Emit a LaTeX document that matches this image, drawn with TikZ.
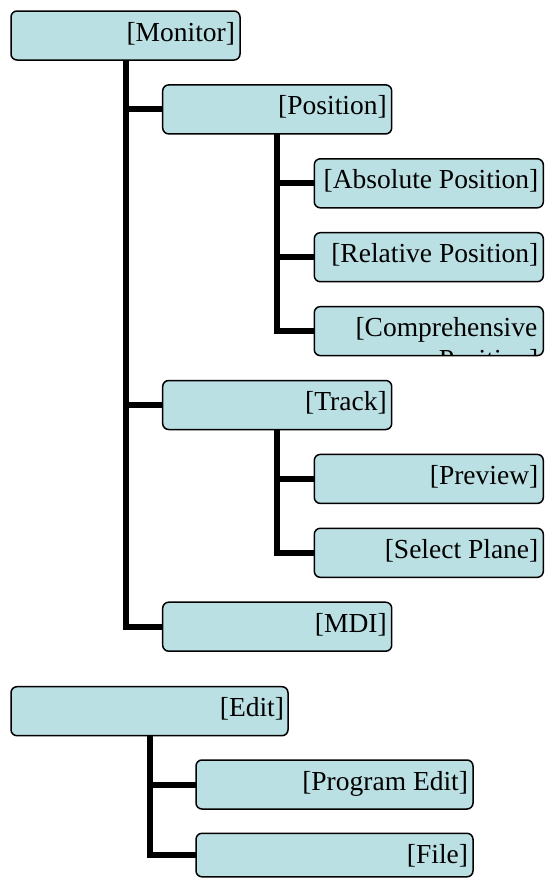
\documentclass[tikz,border=0pt]{standalone}
\usepackage{fontspec}
\setmainfont{Liberation Serif}
\usetikzlibrary{backgrounds}
\definecolor{boxfill}{RGB}{187,224,227}
\tikzset{
  box/.style={draw=black, line width=1.5pt, fill=boxfill, rounded corners=6pt,
    minimum height=49pt, inner sep=0pt, outer sep=0pt, anchor=north west},
  narrowbox/.style={box, minimum width=229pt},
  widebox/.style={box, minimum width=277pt},
  lbl/.style={inner sep=0pt, outer sep=0pt, anchor=base east, text=black,
    font=\fontsize{27.5}{31.5}\selectfont},
  conn/.style={draw=black, line width=6pt, line join=miter, line cap=butt}
}
\begin{document}
\begin{tikzpicture}[x=1pt, y=-1pt]
\useasboundingbox (0,0) rectangle (545,878);
% boxes
\node[narrowbox] (mon)   at (11,11) {};
\node[narrowbox] (pos)   at (162.7,84.9) {};
\node[narrowbox] (abs)   at (314.3,158.8) {};
\node[narrowbox] (rel)   at (314.3,232.7) {};
\node[narrowbox] (comp)  at (314.3,306.6) {};
\node[narrowbox] (track) at (162.7,380.5) {};
\node[narrowbox] (prev)  at (314.3,454.4) {};
\node[narrowbox] (sel)   at (314.3,528.3) {};
\node[narrowbox] (mdi)   at (162.7,602.2) {};
\node[widebox] (edit)  at (11,686.7) {};
\node[widebox] (pedit) at (196,760) {};
\node[widebox, minimum height=43.5pt] (file) at (196,833.3) {};
% labels
\node[lbl] (mon-t)   at ([xshift=-5pt,yshift=-30pt]mon.north east) {[Monitor]};
\node[lbl] (pos-t)   at ([xshift=-5pt,yshift=-30pt]pos.north east) {[Position]};
\node[lbl] (abs-t)   at ([xshift=-5pt,yshift=-30pt]abs.north east) {[Absolute Position]};
\node[lbl] (rel-t)   at ([xshift=-5pt,yshift=-30pt]rel.north east) {[Relative Position]};
\begin{scope}
  \clip[rounded corners=6pt] ([shift={(0.75pt,0.75pt)}]comp.south west) rectangle ([shift={(-0.75pt,-0.75pt)}]comp.north east);
  \node[lbl] (comp-t)  at ([xshift=-6pt,yshift=-30pt]comp.north east) {[Comprehensive};
  \node[lbl] (comp-t2) at ([xshift=-5pt,yshift=-61.5pt]comp.north east) {Position]};
\end{scope}
\node[lbl] (track-t) at ([xshift=-5pt,yshift=-30pt]track.north east) {[Track]};
\node[lbl] (prev-t)  at ([xshift=-5pt,yshift=-30pt]prev.north east) {[Preview]};
\node[lbl] (sel-t)   at ([xshift=-5pt,yshift=-30pt]sel.north east) {[Select Plane]};
\node[lbl] (mdi-t)   at ([xshift=-5pt,yshift=-30pt]mdi.north east) {[MDI]};
\node[lbl] (edit-t)  at ([xshift=-4pt,yshift=-30pt]edit.north east) {[Edit]};
\node[lbl] (pedit-t) at ([xshift=-5pt,yshift=-30pt]pedit.north east) {[Program Edit]};
\node[lbl] (file-t)  at ([xshift=-5pt,yshift=-30pt]file.north east) {[File]};
% connectors
\begin{scope}[on background layer]
  \draw[conn] (mon.south) |- (mdi.west);
  \draw[conn] (mon.south |- pos.west) -- (pos.west);
  \draw[conn] (mon.south |- track.west) -- (track.west);
  \draw[conn] (pos.south) |- (comp.west);
  \draw[conn] (pos.south |- abs.west) -- (abs.west);
  \draw[conn] (pos.south |- rel.west) -- (rel.west);
  \draw[conn] (track.south) |- (sel.west);
  \draw[conn] (track.south |- prev.west) -- (prev.west);
  \draw[conn] (edit.south) |- (file.west);
  \draw[conn] (edit.south |- pedit.west) -- (pedit.west);
\end{scope}
\end{tikzpicture}
\end{document}
